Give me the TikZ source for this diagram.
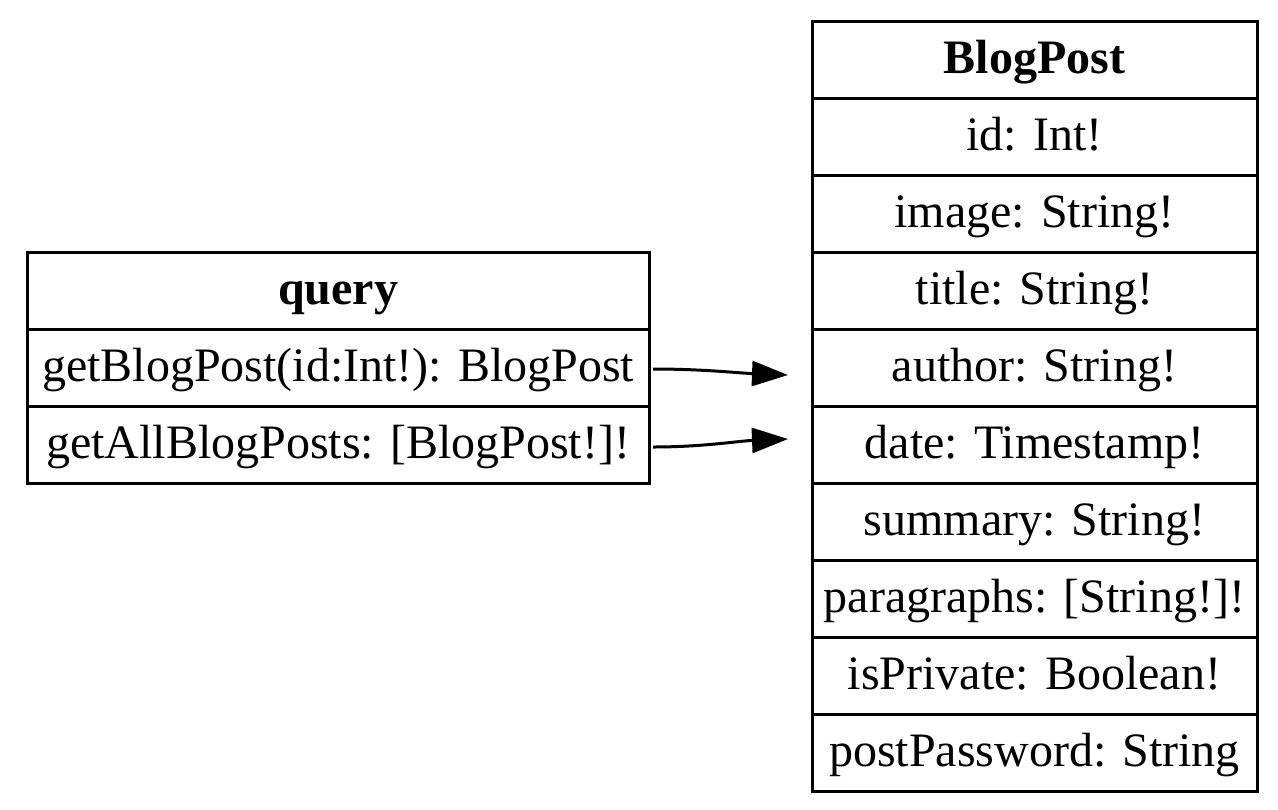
\documentclass[tikz,border=0pt]{standalone}
\usepackage{fontspec}
\setmainfont{Liberation Serif}
\usetikzlibrary{arrows.meta,calc}
\begin{document}
\begin{tikzpicture}[x=0.5pt,y=-0.5pt,
  field/.style={draw,line width=1.5pt,inner sep=0pt,outer sep=0pt,minimum height=38.5pt,
    text height=18pt,text depth=4pt,font=\fontsize{24}{28}\selectfont},
  qfield/.style={field,minimum width=310.75pt},
  bfield/.style={field,minimum width=222.5pt},
  edge/.style={line width=1.5pt,-{Triangle[length=18pt,width=12.5pt]}}]
\useasboundingbox (0,0) rectangle (1278,809);
% query table
\node[qfield] (q0) at (338.25,290.5) {\bfseries query};
\node[qfield] (q1) at (338.25,367.5) {getBlogPost(id:Int!): BlogPost};
\node[qfield] (q2) at (338.25,444.5) {getAllBlogPosts: [BlogPost!]!};
% BlogPost table
\node[bfield] (b0) at (1034.5,59.5) {\bfseries BlogPost};
\node[bfield] (b1) at (1034.5,136.5) {id: Int!};
\node[bfield] (b2) at (1034.5,213.5) {image: String!};
\node[bfield] (b3) at (1034.5,290.5) {title: String!};
\node[bfield] (b4) at (1034.5,367.5) {author: String!};
\node[bfield] (b5) at (1034.5,444.5) {date: Timestamp!};
\node[bfield] (b6) at (1034.5,521.5) {summary: String!};
\node[bfield] (b7) at (1034.5,598.5) {paragraphs: [String!]!};
\node[bfield] (b8) at (1034.5,675.5) {isPrivate: Boolean!};
\node[bfield] (b9) at (1034.5,752.5) {postPassword: String};
% edge end points
\coordinate (s1) at ($(q1.east)+(4,1.5)$);
\coordinate (s2) at ($(q2.east)+(4,2.5)$);
\coordinate (t1) at ($(b4.west)+(-24,7.5)$);
\coordinate (t2) at ($(b5.west)+(-24,-5.5)$);
\draw[edge] (s1) .. controls ($(s1)+(50,0)$) and ($(t1)+(-50,-2)$) .. (t1);
\draw[edge] (s2) .. controls ($(s2)+(50,0)$) and ($(t2)+(-50,2)$) .. (t2);
\end{tikzpicture}
\end{document}
